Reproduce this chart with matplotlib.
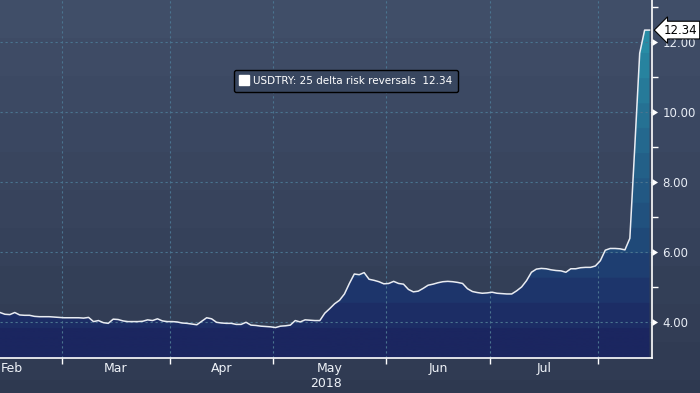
import numpy as np
import pandas as pd
import matplotlib
matplotlib.use('Agg')
import matplotlib.pyplot as plt
from matplotlib.patches import Polygon
from matplotlib.lines import Line2D
from matplotlib.colors import to_rgb
from matplotlib.markers import MarkerStyle
import matplotlib.transforms as mtransforms

# ---------------- data ----------------
start_date = '2018-02-12'
end_date = '2018-08-15'
values = [
    4.27, 4.22, 4.21, 4.27, 4.20, 4.19, 4.19, 4.16, 4.15, 4.15,
    4.15, 4.14, 4.13, 4.12, 4.12, 4.12, 4.12, 4.11, 4.13, 4.01,
    4.04, 3.98, 3.96, 4.08, 4.07, 4.03, 4.01, 4.01, 4.01, 4.02,
    4.06, 4.04, 4.09, 4.03, 4.01, 4.01, 4.00, 3.97, 3.96, 3.94,
    3.92, 4.02, 4.12, 4.09, 3.99, 3.97, 3.96, 3.96, 3.93, 3.93,
    3.99, 3.91, 3.90, 3.88, 3.87, 3.86, 3.84, 3.88, 3.89, 3.91,
    4.04, 4.00, 4.06, 4.05, 4.04, 4.04, 4.25, 4.38, 4.52, 4.62,
    4.80, 5.10, 5.37, 5.35, 5.41, 5.22, 5.19, 5.15, 5.09, 5.10,
    5.16, 5.10, 5.08, 4.93, 4.86, 4.88, 4.96, 5.05, 5.08, 5.12,
    5.15, 5.16, 5.15, 5.13, 5.10, 4.95, 4.87, 4.84, 4.82, 4.83,
    4.85, 4.82, 4.81, 4.80, 4.80, 4.89, 5.00, 5.18, 5.42, 5.51,
    5.53, 5.52, 5.49, 5.47, 5.46, 5.42, 5.52, 5.52, 5.55, 5.56,
    5.56, 5.60, 5.75, 6.05, 6.10, 6.10, 6.09, 6.06, 6.39, 9.00,
    11.68, 12.34, 12.34,
]
series_label = 'USDTRY: 25 delta risk reversals'
month_names = ['Feb', 'Mar', 'Apr', 'May', 'Jun', 'Jul']
month_starts = ['2018-02-01', '2018-03-01', '2018-04-01', '2018-05-01',
                '2018-06-01', '2018-07-01', '2018-08-01']
year_label = '2018'
year_under = 'May'
y_major = [4, 6, 8, 10, 12]
y_minor = [5, 7, 9, 11, 13]
y_limits = (2.97, 13.2)

# ---------------- positions (business-day axis) ----------------
dates = pd.bdate_range(start_date, end_date)
n = min(len(dates), len(values))
x = np.arange(n)
vals = np.array(values[:n])
full = pd.bdate_range(month_starts[0], '2018-08-31')
offset = full.get_loc(pd.Timestamp(start_date))
bounds = []
for ms in month_starts:
    first = pd.bdate_range(ms, periods=1)[0]
    bounds.append(full.get_loc(first) - offset - 0.5)
centers = [(bounds[i] + bounds[i + 1]) / 2 for i in range(len(month_names))]
xmax = n - 0.5

# ---------------- figure ----------------
W, H = 700, 393
fig = plt.figure(figsize=(W / 100, H / 100), dpi=100)


def lerp_colors(anchors, t):
    ts = [a[0] for a in anchors]
    cs = np.array([to_rgb(a[1]) for a in anchors])
    return np.stack([np.interp(t, ts, cs[:, k]) for k in range(3)], axis=-1)


# background gradient (banded)
bg = fig.add_axes([0, 0, 1, 1], zorder=-10)
rows = np.arange(H)
band = np.floor(rows / 38.0) / (H / 38.0)
bgcols = lerp_colors([(0.0, '#404e68'), (1.0, '#2e3950')], band)
bg.imshow(bgcols[:, None, :], extent=[0, 1, 0, 1], aspect='auto', origin='upper')
bg.set_xlim(0, 1)
bg.set_ylim(0, 1)
bg.axis('off')

ax = fig.add_axes([0, 35 / H, 652 / W, 358 / H])
ax.patch.set_alpha(0)

# gradient fill under line
ybot = y_limits[0]
verts = [(x[0], ybot)] + list(zip(x, vals)) + [(x[-1], ybot)]
clip = Polygon(verts, closed=True, facecolor='none', edgecolor='none')
ax.add_patch(clip)
yy = np.linspace(ybot, vals.max(), 600)
bandv = 3.83 + np.floor((yy - 3.83) / 0.714) * 0.714
bandv = np.where(yy < 3.83, 3.0, bandv)
fcols = lerp_colors([(3.0, '#1b2660'), (4.0, '#1d2f67'), (5.0, '#1e3b6f'),
                     (6.0, '#204a79'), (8.0, '#235f88'), (10.0, '#267797'),
                     (12.3, '#2a94ab')], bandv)
im = ax.imshow(fcols[:, None, :], extent=[x[0], x[-1], ybot, vals.max()],
               aspect='auto', origin='lower', zorder=1)
im.set_clip_path(clip)
ax.set_xlim(0, xmax)
ax.set_ylim(*y_limits)

# grid
gridc = '#4a7490'
for b in bounds[1:]:
    ax.axvline(b, color=gridc, lw=0.8, ls=(0, (2, 2.5)), zorder=2)
for yv in y_major:
    ax.axhline(yv, color=gridc, lw=0.8, ls=(0, (2, 2.5)), zorder=2)

# line
ax.plot(x, vals, color='#e9ecf2', lw=1.1, zorder=3)

# spines
for s in ['top', 'left']:
    ax.spines[s].set_visible(False)
for s in ['bottom', 'right']:
    ax.spines[s].set_color('white')
    ax.spines[s].set_linewidth(1.2)

# y axis on right
ax.yaxis.tick_right()
ax.set_yticks(y_major)
ax.set_yticklabels([f'{v:.2f}' for v in y_major])
ax.set_yticks(y_minor, minor=True)
ax.tick_params(axis='y', which='major', length=0, pad=7.5, labelsize=8.5,
               labelcolor='#e8edf5')
ax.tick_params(axis='y', which='minor', length=4, width=1, color='white',
               direction='out')
trans = mtransforms.blended_transform_factory(ax.transAxes, ax.transData)
flag = MarkerStyle([(0, -1), (0, 1), (1.6, 0), (0, -1)])
ax.plot([1.0] * len(y_major), y_major, linestyle='none', marker=flag,
        markersize=8, color='white', markeredgewidth=0,
        transform=trans, clip_on=False, zorder=5)

# x axis
ax.set_xticks(bounds[1:])
ax.set_xticklabels([])
ax.set_xticks(centers, minor=True)
ax.set_xticklabels(month_names, minor=True)
ax.tick_params(axis='x', which='major', length=4, width=1, color='white',
               direction='out')
ax.tick_params(axis='x', which='minor', length=0, pad=3, labelsize=9,
               labelcolor='#eef2f8')
ax.annotate(year_label, xy=(centers[month_names.index(year_under)], 0),
            xycoords=('data', 'axes fraction'), xytext=(-3, -13.5),
            textcoords='offset points', ha='center', va='top',
            fontsize=9, color='#eef2f8')

# last value label
ax.text(1.018, vals[-1], f'{vals[-1]:.2f}', transform=trans, ha='left',
        va='center', fontsize=8.5, color='black', zorder=6,
        bbox=dict(boxstyle='larrow,pad=0.2', fc='white', ec='black', lw=0.8))

# legend
handle = Line2D([], [], linestyle='none', marker='s', markersize=7.5,
                markerfacecolor='white', markeredgecolor='white')
leg = fig.legend(handles=[handle], labels=[f'{series_label}  {vals[-1]:.2f}'],
                 loc='center', bbox_to_anchor=(346 / W, 1 - 81 / H),
                 frameon=True, fancybox=True, facecolor='#38465f',
                 edgecolor='black', framealpha=1, fontsize=7.5,
                 labelcolor='white', handlelength=0.8, handletextpad=0.5,
                 borderpad=0.55)
leg.get_frame().set_linewidth(1.0)

fig.savefig('out.png', dpi=100)
